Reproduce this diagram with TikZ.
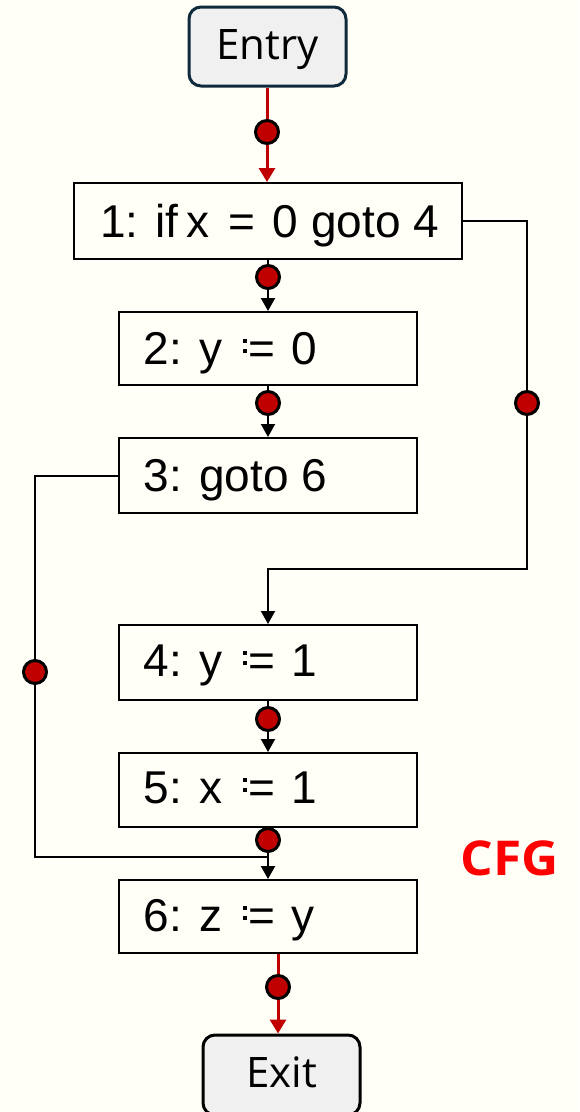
\documentclass[tikz,border=0pt]{standalone}
\usepackage{fontspec}
\usepackage{graphicx}
\setmainfont{Liberation Sans}
\newfontfamily\uifont{Open Sans}
\usetikzlibrary{arrows.meta}

\definecolor{paper}{HTML}{FFFEF7}
\definecolor{termfill}{HTML}{F0F0F0}
\definecolor{entryline}{HTML}{0E2A3B}
\definecolor{dotred}{HTML}{C00000}
\definecolor{cfgred}{HTML}{FF0000}

% assignment sign: two square dots level with the bars of an equals sign
\newcommand\ceqsym{\mbox{\rlap{\raisebox{0.23em}{\rule{0.09em}{0.09em}}}%
  \raisebox{0.455em}{\rule{0.09em}{0.09em}}\kern0.02em=}}
\newcommand\asg{\kern0.18em\ \ceqsym\ \kern0.09em}

\tikzset{
  stmt/.style={draw=black, line width=2pt, fill=paper, inner sep=0pt},
  term/.style={rounded corners=12pt, line width=3pt, fill=termfill, inner sep=0pt,
               minimum width=157pt, minimum height=79pt,
               font=\uifont\fontsize{42}{46}\selectfont, text height=30pt, text depth=4.5pt},
  code/.style={anchor=base west, inner sep=0pt, font=\fontsize{46}{50}\selectfont},
  dot/.style={circle, draw=black, line width=3pt, fill=dotred, minimum size=23pt, inner sep=0pt},
  flow/.style={draw=black, line width=2pt, -{Triangle[length=13pt,width=14pt]}},
  plain/.style={draw=black, line width=2pt},
  redflow/.style={draw=dotred, line width=3pt, -{Triangle[length=14pt,width=16pt]}},
}

\begin{document}
\begin{tikzpicture}[x=1pt, y=-1pt]
\fill[paper] (0,0) rectangle (579,1112);
\useasboundingbox (0,0) rectangle (579,1112);
\clip (0,0) rectangle (579,1112);

% terminals
\node[term, draw=entryline] (en) at (267.5,46.5) {Entry};
\node[term, draw=black, minimum height=80pt] (ex) at (281.5,1075) {Exit};

% statement boxes
\node[stmt, minimum width=388pt, minimum height=76pt] (b1) at (268,221) {};
\node[stmt, minimum width=298pt, minimum height=73pt] (b2) at (268,348.5) {};
\node[stmt, minimum width=298pt, minimum height=75pt] (b3) at (268,475.5) {};
\node[stmt, minimum width=298pt, minimum height=75pt] (b4) at (268,662.5) {};
\node[stmt, minimum width=298pt, minimum height=74pt] (b5) at (268,790) {};
\node[stmt, minimum width=298pt, minimum height=73pt] (b6) at (268,916.5) {};

% statement texts
\node[code] (t1) at (100,237) {1: if\kern0.18em x\kern0.13em\ =\ \kern0.1em0 goto 4};
\node[code] (t2) at (143.5,364) {2: y\asg0};
\node[code] (t3) at (143.5,491) {3: goto 6};
\node[code] (t4) at (143.5,676) {4: y\asg1};
\node[code] (t5) at (143.5,803) {5: x\asg1};
\node[code] (t6) at (143.5,931) {6: z\asg y};

% positions of the edge markers
\coordinate (p0) at (267,132);
\coordinate (p1) at (268,277);
\coordinate (p2) at (268,403);
\coordinate (pr) at (527,403);
\coordinate (pl) at (35,672);
\coordinate (p4) at (268,719);
\coordinate (p5) at (268,840);
\coordinate (p6) at (278,987);
\coordinate (rc) at (527,569);
\coordinate (lc) at (35,857);

% edges
\draw[redflow] (en.south -| p0) -- (p0 |- b1.north);
\draw[flow] (b1.south -| p1) -- (p1 |- b2.north);
\draw[flow] (b2.south -| p2) -- (p2 |- b3.north);
\draw[flow] (b1.east) -| (rc) -| (b4.north);
\draw[plain] (b3.west) -| (lc) -- (lc -| b6.north);
\draw[flow] (b4.south -| p4) -- (p4 |- b5.north);
\draw[flow] (b5.south -| p5) -- (p5 |- b6.north);
\draw[redflow] (b6.south -| p6) -- (p6 |- ex.north);

% edge markers
\node[dot] (d0) at (p0) {};
\node[dot] (d1) at (p1) {};
\node[dot] (d2) at (p2) {};
\node[dot] (dr) at (pr) {};
\node[dot] (dl) at (pl) {};
\node[dot] (d4) at (p4) {};
\node[dot] (d5) at (p5) {};
\node[dot] (d6) at (p6) {};

% caption
\node[anchor=base west, inner sep=0pt, text=cfgred,
      font=\uifont\bfseries\fontsize{48}{52}\selectfont] (cfg) at (460.5,875) {\scalebox{1.07}[1]{CFG}};
\end{tikzpicture}
\end{document}
